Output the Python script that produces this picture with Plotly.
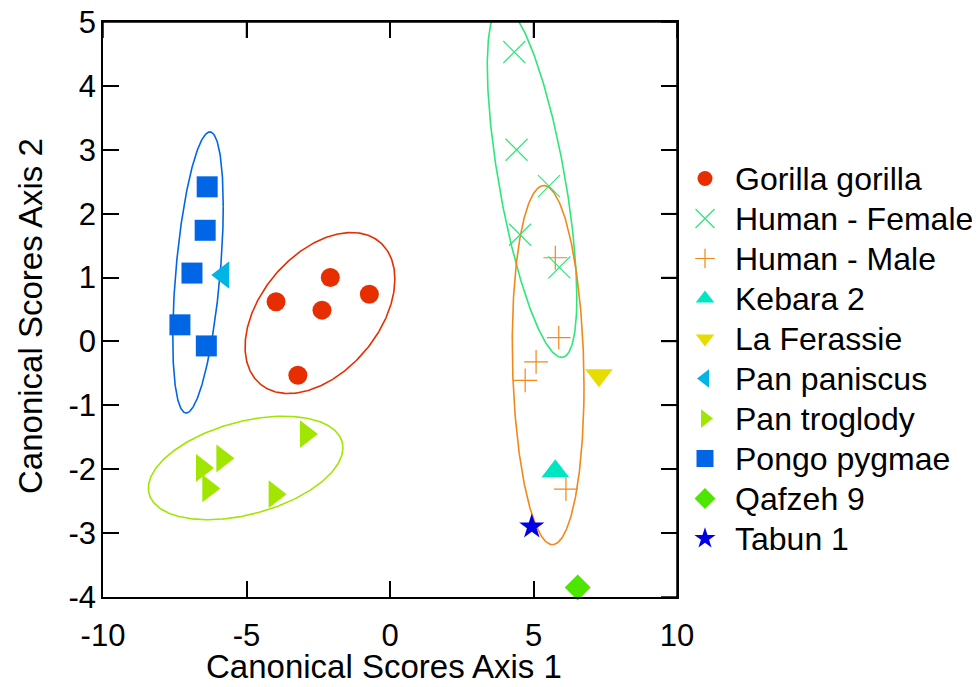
import numpy as np
import plotly.graph_objects as go

# ---- data ----
gorilla_x = [-3.97, -2.08, -0.72, -2.37, -3.21]
gorilla_y = [0.62, 1.00, 0.74, 0.49, -0.53]

female_x = [4.33, 4.41, 5.54, 4.53, 5.90]
female_y = [4.53, 3.00, 2.43, 1.67, 1.16]

male_x = [5.76, 5.88, 5.09, 4.71, 6.13]
male_y = [1.31, 0.06, -0.32, -0.61, -2.31]

kebara_x = [5.76]
kebara_y = [-2.03]

ferassie_x = [7.28]
ferassie_y = [-0.53]

paniscus_x = [-5.81]
paniscus_y = [1.04]

troglody_x = [-2.93, -5.84, -6.55, -6.33, -4.02]
troglody_y = [-1.45, -1.83, -1.98, -2.30, -2.39]

pongo_x = [-6.37, -6.44, -6.90, -7.32, -6.40]
pongo_y = [2.42, 1.74, 1.07, 0.26, -0.07]

qafzeh_x = [6.54]
qafzeh_y = [-3.85]

tabun_x = [4.94]
tabun_y = [-2.90]

# ellipse parameters: center x, center y, half-range x, half-range y, correlation
ellipse_gorilla = [-2.44, 0.445, 2.61, 1.26, 0.42]
ellipse_pongo = [-6.69, 1.08, 0.88, 2.20, 0.47]
ellipse_troglody = [-5.03, -1.98, 3.39, 0.81, 0.39]
ellipse_female = [4.95, 2.50, 1.56, 2.75, -0.66]
ellipse_male = [5.51, -0.37, 1.25, 2.81, -0.12]

x_ticks = [-10, -5, 0, 5, 10]
y_ticks = [-4, -3, -2, -1, 0, 1, 2, 3, 4, 5]

FONT = "Liberation Sans, Arial, sans-serif"
W, H = 980, 687

def ellipse(params):
    cx, cy, sx, sy, r = params
    t = np.linspace(0, 2 * np.pi, 361)
    x = cx + sx * np.cos(t)
    y = cy + sy * (r * np.cos(t) + np.sqrt(1 - r * r) * np.sin(t))
    return x, y

fig = go.Figure()

for params, col in [
    (ellipse_gorilla, "#E62E00"),
    (ellipse_pongo, "#0066E6"),
    (ellipse_troglody, "#A0E600"),
    (ellipse_female, "#2EE67A"),
    (ellipse_male, "#F0881A"),
]:
    ex, ey = ellipse(params)
    fig.add_trace(go.Scatter(x=ex, y=ey, mode="lines", line=dict(color=col, width=1.6),
                             showlegend=False, hoverinfo="skip"))

# name, x, y, symbol, plot size, legend size, colour
series = [
    ("Gorilla gorilla", gorilla_x, gorilla_y, "circle", 19, 15, "#E62E00"),
    ("Human - Female", female_x, female_y, "x-thin-open", 22, 19, "#2EE67A"),
    ("Human - Male", male_x, male_y, "cross-thin-open", 17, 14, "#F0881A"),
    ("Kebara 2", kebara_x, kebara_y, "triangle-up", 24, 16, "#00E6C3"),
    ("La Ferassie", ferassie_x, ferassie_y, "triangle-down", 24, 16, "#E6DC00"),
    ("Pan paniscus", paniscus_x, paniscus_y, "triangle-left", 24, 16, "#00B4E6"),
    ("Pan troglody", troglody_x, troglody_y, "triangle-right", 24, 16, "#A0E600"),
    ("Pongo pygmae", pongo_x, pongo_y, "square", 21, 17, "#0066E6"),
    ("Qafzeh 9", qafzeh_x, qafzeh_y, "diamond", 20, 16, "#4CE600"),
    ("Tabun 1", tabun_x, tabun_y, "star", 19, 16, "#0000E6"),
]

def mk(sym, size, col):
    m = dict(symbol=sym, size=size, color=col)
    m["line"] = dict(color=col, width=1.2) if sym.endswith("open") else dict(width=0)
    return m

for name, xs, ys, sym, size, lsize, col in series:
    fig.add_trace(go.Scatter(x=xs, y=ys, mode="markers", name=name,
                             marker=mk(sym, size, col), cliponaxis=False,
                             showlegend=False, legendgroup=name))

# figure-pixel layout of the plot area
M_L, M_T, M_B = 95, 14, 98
PLOT_R = 669
PW = W - M_L            # paper width (right margin is 0)
PH = H - M_T - M_B      # paper height
px = lambda xf: (xf - M_L) / PW
py = lambda yf: (H - M_B - yf) / PH
TICK = 16

# legend drawn in a pixel-coordinate side panel (x2/y2)
LEG_X0 = 686
LEG_MARK_X = 697
LEG_TEXT_X = 725
LEG_Y0 = 170.5
LEG_STEP = 40.0
annotations = []
for i, (name, xs, ys, sym, size, lsize, col) in enumerate(series):
    yy = LEG_Y0 + i * LEG_STEP
    fig.add_trace(go.Scatter(x=[LEG_MARK_X], y=[yy], mode="markers", xaxis="x2", yaxis="y2",
                             marker=mk(sym, lsize, col), showlegend=False, hoverinfo="skip",
                             cliponaxis=False, legendgroup=name))
    annotations.append(dict(x=LEG_TEXT_X, y=yy, xref="x2", yref="y2", text=name,
                            showarrow=False, xanchor="left", yanchor="middle",
                            font=dict(family=FONT, size=32, color="black")))

# axis titles
annotations.append(dict(x=px(375.5), y=py(658), xref="paper", yref="paper",
                        text="Canonical Scores Axis 1", showarrow=False,
                        xanchor="center", yanchor="middle",
                        font=dict(family=FONT, size=33, color="black")))
annotations.append(dict(x=px(22), y=py(308), xref="paper", yref="paper",
                        text="Canonical Scores Axis 2", showarrow=False, textangle=-90,
                        xanchor="center", yanchor="middle",
                        font=dict(family=FONT, size=33, color="black")))

# top and right frame edges with their inside ticks (paper-referenced, unclipped)
line_style = dict(color="black", width=1.5)
shapes = [
    dict(type="line", xref="paper", yref="paper", x0=0, x1=px(PLOT_R), y0=1, y1=1,
         line=line_style, layer="above"),
    dict(type="line", xref="paper", yref="paper", x0=px(PLOT_R), x1=px(PLOT_R), y0=0, y1=1,
         line=line_style, layer="above"),
]
for v in x_ticks:
    shapes.append(dict(type="line", xref="x", yref="paper", x0=v, x1=v,
                       y0=1, y1=1 - TICK / PH, line=line_style, layer="above"))
for v in y_ticks:
    shapes.append(dict(type="line", xref="paper", yref="y", y0=v, y1=v,
                       x0=px(PLOT_R), x1=px(PLOT_R - TICK), line=line_style, layer="above"))

axis_common = dict(
    showgrid=False, zeroline=False, showline=True, linecolor="black", linewidth=1.5,
    mirror="ticks", ticks="inside", ticklen=TICK, tickwidth=1.5, tickcolor="black",
    tickfont=dict(family=FONT, size=31, color="black"), automargin=False,
    ticklabeloverflow="allow",
)

fig.update_layout(
    width=W, height=H,
    margin=dict(l=M_L, r=0, t=M_T, b=M_B),
    paper_bgcolor="white", plot_bgcolor="rgba(0,0,0,0)",
    font=dict(family=FONT, size=31, color="black"),
    xaxis=dict(domain=[0, px(PLOT_R)], range=[-10, 10], tickvals=x_ticks,
               ticktext=[str(v) for v in x_ticks], ticklabelstandoff=10, **axis_common),
    yaxis=dict(domain=[0, 1], range=[-4, 5], tickvals=y_ticks,
               ticktext=[str(v) for v in y_ticks], ticklabelstandoff=-1, **axis_common),
    xaxis2=dict(domain=[px(LEG_X0), 1.0], range=[LEG_X0, W], visible=False, anchor="y2",
                fixedrange=True),
    yaxis2=dict(domain=[0, 1], range=[H - M_B, M_T], visible=False, anchor="x2",
                fixedrange=True),
    shapes=shapes,
    annotations=annotations,
    showlegend=False,
)

fig.write_html("out.html")
